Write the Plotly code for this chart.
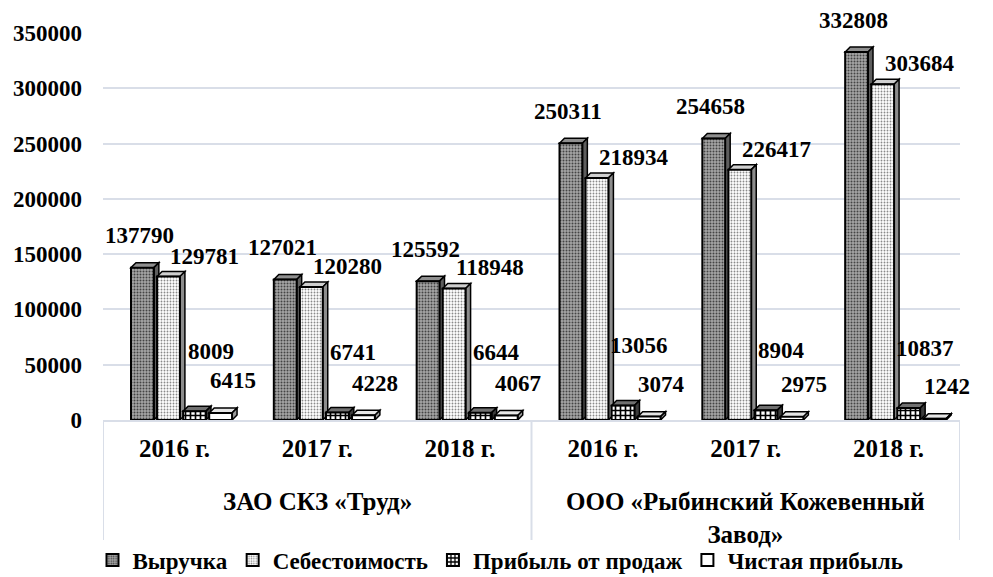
import plotly.graph_objects as go

# ---- data ----
groups = ["ЗАО СКЗ «Труд»", "ООО «Рыбинский Кожевенный<br>Завод»"]
years = ["2016 г.", "2017 г.", "2018 г.", "2016 г.", "2017 г.", "2018 г."]
series_names = ["Выручка", "Себестоимость", "Прибыль от продаж", "Чистая прибыль"]
revenue = [137790, 127021, 125592, 250311, 254658, 332808]
cost = [129781, 120280, 118948, 218934, 226417, 303684]
sales_profit = [8009, 6741, 6644, 13056, 8904, 10837]
net_profit = [6415, 4228, 4067, 3074, 2975, 1242]
y_ticks = [0, 50000, 100000, 150000, 200000, 250000, 300000, 350000]

series_values = [revenue, cost, sales_profit, net_profit]

FONT = "Liberation Serif"
x_idx = list(range(len(years)))

# page body has an 8px default margin, so the figure is sized to fit the window
W, H = 985, 569
ML, MR, MT, MB = 95, 33, 25, 157
plot_h = H - MT - MB

# bar geometry (in category units)
slot = 0.1825
bar_w = 0.16
start = -0.304
dx = 0.035      # 3D depth, x
dy = 4500       # 3D depth, y (value units)

styles = [
    dict(bg="#a6a6a6", fg="#444444", shape=".", size=3, sol=0.35, top="#8f8f8f", side="#5e5e5e"),
    dict(bg="#ffffff", fg="#8a8a8a", shape=".", size=3, sol=0.3, top="#cfcfcf", side="#8c8c8c"),
    dict(bg="#ffffff", fg="#000000", shape="+", size=5, sol=0.55, top="#707070", side="#3c3c3c"),
    dict(bg="#ffffff", fg="#ffffff", shape="", size=4, sol=0.2, top="#e6e6e6", side="#9a9a9a"),
]


def bfont(size):
    return dict(family=FONT, size=size, color="black", weight="bold")


fig = go.Figure()
shapes = []
annotations = []

for j, (name, vals, st) in enumerate(zip(series_names, series_values, styles)):
    off = start + j * slot
    fig.add_trace(go.Bar(
        name=name, x=x_idx, y=vals, width=bar_w, offset=off,
        marker=dict(
            color=st["bg"],
            line=dict(color="black", width=2),
            pattern=dict(shape=st["shape"], bgcolor=st["bg"], fgcolor=st["fg"],
                         size=st["size"], solidity=st["sol"], fillmode="replace"),
        ),
        hoverinfo="skip",
    ))
    for i, v in zip(x_idx, vals):
        xl = i + off
        xr = xl + bar_w
        # top face
        shapes.append(dict(
            type="path", xref="x", yref="y", layer="between",
            path=f"M {xl},{v} L {xl+dx},{v+dy} L {xr+dx},{v+dy} L {xr},{v} Z",
            fillcolor=st["top"], line=dict(color="black", width=1.5)))
        # side face
        shapes.append(dict(
            type="path", xref="x", yref="y", layer="between",
            path=f"M {xr},0 L {xr},{v} L {xr+dx},{v+dy} L {xr+dx},{dy} Z",
            fillcolor=st["side"], line=dict(color="black", width=1.5)))
        xc = (xl + xr) / 2
        if j == 0:
            kw = dict(yshift=32, xshift=-3)
        elif j == 1:
            kw = dict(yshift=6, xanchor="left", yanchor="bottom")
        elif j == 2:
            kw = dict(yshift=60, xshift=16)
        else:
            kw = dict(yshift=32, xshift=12)
        annotations.append(dict(x=xc, y=v, xref="x", yref="y", text=str(v),
                                showarrow=False, font=bfont(23), **kw))

# group labels and dividers below the axis
div_bottom = -120 / plot_h
for k, g in enumerate(groups):
    annotations.append(dict(x=1 + 3 * k, y=-66 / plot_h, xref="x", yref="paper",
                            text=g, showarrow=False, yanchor="top",
                            font=bfont(25)))
for xv in [-0.5, 2.5, 5.5]:
    shapes.append(dict(type="line", xref="x", yref="paper", x0=xv, x1=xv,
                       y0=0, y1=div_bottom, line=dict(color="#d9dee8", width=2)))

fig.update_layout(
    width=W, height=H,
    margin=dict(l=ML, r=MR, t=MT, b=MB, autoexpand=False),
    paper_bgcolor="white", plot_bgcolor="white",
    barmode="overlay",
    showlegend=True,
    legend=dict(orientation="h", xref="container", x=0.5, xanchor="center",
                yref="paper", y=-140 / plot_h, yanchor="middle", font=bfont(23),
                itemwidth=30, tracegroupgap=0, bgcolor="rgba(0,0,0,0)"),
    shapes=shapes,
    annotations=annotations,
    font=bfont(23),
)
fig.update_xaxes(
    range=[-0.5, 5.5], tickmode="array", tickvals=x_idx, ticktext=years,
    showgrid=False, zeroline=False, showline=True, linecolor="#d9dee8", linewidth=2,
    ticks="", ticklabelstandoff=5, automargin=False,
    tickfont=bfont(25),
)
fig.update_yaxes(
    range=[0, 350000], tickmode="array", tickvals=y_ticks, tickformat="d",
    showgrid=True, gridcolor="#d9dee8", gridwidth=2, zeroline=False,
    showline=False, ticks="", ticklabelstandoff=20, automargin=False,
    tickfont=bfont(23),
)

fig.write_html("out.html")
